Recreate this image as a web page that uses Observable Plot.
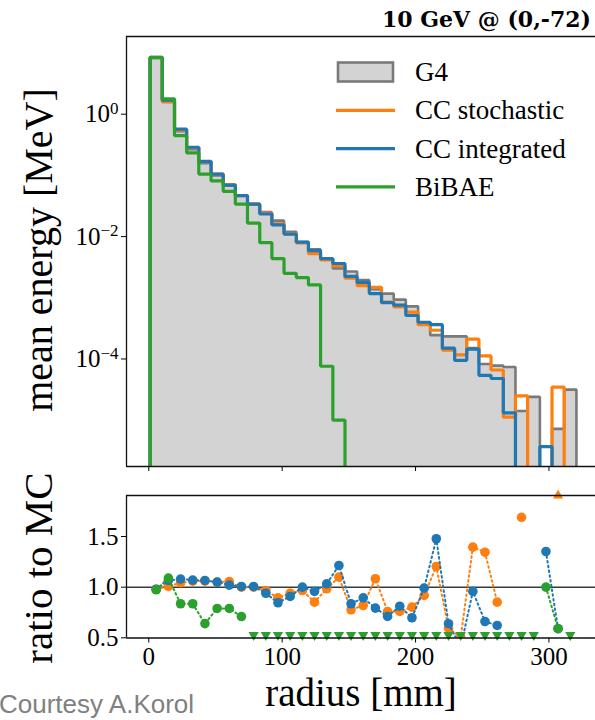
<!DOCTYPE html>
<html>
<head>
<meta charset="utf-8">
<script src="https://cdn.jsdelivr.net/npm/d3@7"></script>
<script src="https://cdn.jsdelivr.net/npm/@observablehq/plot@0.6"></script>
<style>
  html, body { margin: 0; padding: 0; background: #fff; }
  #figure { position: relative; width: 595px; height: 720px; overflow: hidden; background: #fff; }
  #figure > * { position: absolute; left: 0; }
  #energy { top: 0; }
  #ratio { top: 480px; }
  #labels { top: 0; pointer-events: none; }
</style>
</head>
<body>
<div id="figure">
  <div id="energy"></div>
  <div id="ratio"></div>
  <svg id="labels" width="595" height="720"></svg>
</div>
<script>
// Radial bin edges [mm]
const binEdges = [1.0, 10.1, 19.3, 28.4, 37.5, 46.7, 55.8, 64.9, 74.0, 83.2, 92.3, 101.4, 110.6, 119.7,
  128.8, 138.0, 147.1, 156.2, 165.3, 174.5, 183.6, 192.7, 201.9, 211.0, 220.1, 229.3, 238.4, 247.5,
  256.6, 265.8, 274.9, 284.0, 293.2, 302.3, 311.4, 320.6];

// Mean deposited energy per radial bin [MeV]; 0 marks an empty bin
const g4 = [8.61, 1.585, 0.525, 0.269, 0.158, 0.100, 0.0676, 0.0468, 0.0339, 0.0251, 0.0182, 0.0120,
  0.00813, 0.00617, 0.00427, 0.00302, 0.00269, 0.00195, 0.00138, 0.00117, 0.000933, 0.000724,
  0.000398, 0.000245, 0.000234, 0.000234, 0.000151, 8.3e-5, 7.8e-5, 7.4e-5, 1.41e-5, 2.4e-5, 0,
  7.2e-6, 3.16e-5];
const ccStochastic = [8.41, 1.60, 0.550, 0.285, 0.168, 0.105, 0.0708, 0.0468, 0.0339, 0.0243, 0.0162,
  0.0112, 0.00785, 0.00525, 0.00417, 0.00331, 0.00209, 0.00158, 0.00148, 0.000851, 0.000708,
  0.000582, 0.000363, 0.000295, 0.000140, 0.000117, 0.000211, 0.000112, 6.6e-5, 1.12e-5, 2.5e-5,
  0, 0, 3.47e-5, 0];
const ccIntegrated = [8.41, 1.70, 0.569, 0.288, 0.170, 0.105, 0.0692, 0.0468, 0.0339, 0.0234, 0.0155,
  0.0110, 0.00813, 0.00589, 0.00437, 0.00363, 0.00224, 0.00178, 0.00117, 0.000832, 0.000759,
  0.000513, 0.000398, 0.000363, 0.000150, 9.5e-5, 0.000145, 5.4e-5, 4.8e-5, 1.32e-5, 0, 0, 3.7e-6,
  0, 0];
const bibae = [8.5, 1.78, 0.447, 0.234, 0.105, 0.0813, 0.055, 0.0339, 0.0166, 0.00794, 0.00437,
  0.00251, 0.00214, 0.00162, 7.6e-5, 1.0e-5, 0, 0, 0, 0, 0, 0, 0, 0, 0, 0, 0, 0, 0, 0, 0, 0, 0, 0, 0];

// Ratio to G4 per bin; null where no point is shown
const ratioStochastic = [0.98, 1.007, 1.043, 1.06, 1.06, 1.05, 1.055, 1.0, 1.0, 0.967, 0.895, 0.94,
  0.967, 0.852, 0.984, 1.099, 0.777, 0.819, 1.083, 0.76, 0.76, 0.803, 0.918, 1.204, 0.595, 0.506,
  1.395, 1.345, 0.852, null, 1.69, null, null, null, null];
const ratioIntegrated = [0.98, 1.066, 1.08, 1.07, 1.066, 1.05, 1.02, 1.007, 1.007, 0.94, 0.846, 0.908,
  1.0, 0.958, 1.033, 1.214, 0.836, 0.895, 0.793, 0.711, 0.812, 0.698, 0.99, 1.478, 0.639, 0.41,
  0.958, 0.661, 0.622, null, null, null, 1.352, 0.59, null];
const ratioBibae = [0.974, 1.09, 0.836, 0.836, 0.64, 0.79, 0.79, 0.71, null, null, null, null, null,
  null, null, null, null, null, null, null, null, null, null, null, null, null, null, null, null,
  null, null, null, 1.0, 0.59, null];
// Bins whose ratio lies outside the plotted range
const bibaeBelow = [8, 9, 10, 11, 12, 13, 14, 15, 16, 17, 18, 19, 20, 21, 22, 23, 24, 25, 26, 27,
  28, 29, 30, 31, 34];
const stochasticAbove = [33];

const legendNames = ["G4", "CC stochastic", "CC integrated", "BiBAE"];
const xTicks = [0, 100, 200, 300];
const energyTicks = [1, 1e-2, 1e-4];
const ratioTicks = [0.5, 1.0, 1.5];

const GREY = "#7a7a7a", FILL = "#d3d3d3";
const ORANGE = "#ff7f0e", BLUE = "#1f77b4", GREEN = "#2ca02c";
const SPINE = "#111";
const SERIF = "'Liberation Serif', 'DejaVu Serif', serif";

const xDomain = [-16.7, 334.9];
const eDomain = [1.75e-6, 18.6];
const rDomain = [0.498, 1.905];
const FLOOR = 1e-9;

// histogram outline as a step path between bin edges
function outline(values) {
  const pts = [{x: binEdges[0], y: FLOOR}];
  values.forEach((v, i) => {
    const y = v > 0 ? v : FLOOR;
    pts.push({x: binEdges[i], y}, {x: binEdges[i + 1], y});
  });
  pts.push({x: binEdges[binEdges.length - 1], y: FLOOR});
  return pts;
}
const centers = binEdges.slice(1).map((e, i) => (binEdges[i] + e) / 2);
const ratioPoints = (r) => r.map((v, i) => ({x: centers[i], y: v}));

const baseStyle = {background: "transparent", fontFamily: SERIF, fontSize: "25px", color: "#000", overflow: "visible"};
const stepOpts = {x: "x", y: "y", strokeWidth: 3.2, strokeLinejoin: "miter", clip: true};

const sup = (d) => "10^" + Math.round(Math.log10(d));

const energy = Plot.plot({
  width: 595, height: 470,
  marginTop: 36, marginBottom: 4, marginLeft: 126, marginRight: 0,
  style: baseStyle,
  x: {domain: xDomain},
  y: {type: "log", domain: eDomain},
  marks: [
    Plot.areaY(outline(g4), {x: "x", y1: () => FLOOR, y2: "y", fill: FILL, clip: true}),
    Plot.line(outline(g4), {...stepOpts, stroke: GREY, strokeWidth: 2.6}),
    Plot.line(outline(ccStochastic), {...stepOpts, stroke: ORANGE}),
    Plot.line(outline(ccIntegrated), {...stepOpts, stroke: BLUE}),
    Plot.line(outline(bibae), {...stepOpts, stroke: GREEN}),
    Plot.axisX({ticks: xTicks, tickSize: 5, tickFormat: () => "", label: null}),
    Plot.axisY({ticks: energyTicks, tickSize: 5, tickPadding: 3, tickFormat: sup, label: null}),
    Plot.ruleY([eDomain[1]], {stroke: SPINE, strokeWidth: 1.3}),
    Plot.ruleY([eDomain[0]], {stroke: SPINE, strokeWidth: 1.3}),
    Plot.ruleX([xDomain[0]], {stroke: SPINE, strokeWidth: 1.3})
  ]
});
document.getElementById("energy").append(energy);

const dotted = {x: "x", y: "y", strokeWidth: 2, strokeDasharray: "1.6,3.2", clip: true};
const dotOpts = {x: "x", y: "y", r: 4.8, clip: true};

const ratio = Plot.plot({
  width: 595, height: 200,
  marginTop: 15, marginBottom: 42.5, marginLeft: 126, marginRight: 0,
  style: baseStyle,
  x: {domain: xDomain},
  y: {domain: rDomain},
  marks: [
    Plot.ruleY([1], {stroke: "#3a3a3a", strokeWidth: 1.5}),
    Plot.line(ratioPoints(ratioStochastic), {...dotted, stroke: ORANGE}),
    Plot.dot(ratioPoints(ratioStochastic), {...dotOpts, fill: ORANGE}),
    Plot.line(ratioPoints(ratioIntegrated), {...dotted, stroke: BLUE}),
    Plot.dot(ratioPoints(ratioIntegrated), {...dotOpts, fill: BLUE}),
    Plot.line(ratioPoints(ratioBibae), {...dotted, stroke: GREEN}),
    Plot.dot(ratioPoints(ratioBibae), {...dotOpts, fill: GREEN}),
    Plot.dot(bibaeBelow, {x: (i) => centers[i], y: () => rDomain[0], dy: -3, symbol: "triangle",
      rotate: 180, r: 3.8, fill: GREEN, stroke: null}),
    Plot.dot(stochasticAbove, {x: (i) => centers[i], y: () => rDomain[1], symbol: "triangle",
      r: 3.8, fill: ORANGE, stroke: null}),
    Plot.axisX({ticks: xTicks, tickSize: 5, tickPadding: 4, label: null}),
    Plot.axisY({ticks: ratioTicks, tickSize: 5, tickPadding: 3, tickFormat: d3.format(".1f"), label: null}),
    Plot.ruleY([rDomain[1]], {stroke: SPINE, strokeWidth: 1.3}),
    Plot.ruleY([rDomain[0]], {stroke: SPINE, strokeWidth: 1.3}),
    Plot.ruleX([xDomain[0]], {stroke: SPINE, strokeWidth: 1.3})
  ]
});
document.getElementById("ratio").append(ratio);

// powers of ten with raised exponents
d3.select(energy).selectAll('g[aria-label="y-axis tick label"] text').each(function () {
  const t = d3.select(this);
  const [base, exp] = t.text().split("^");
  t.text(base);
  t.append("tspan").attr("dy", "-0.48em").attr("font-size", "0.68em").text(exp.replace("-", "\u2212"));
});

// titles, axis labels and legend
const lab = d3.select("#labels");
lab.append("text").attr("x", 591).attr("y", 27).attr("text-anchor", "end")
  .attr("font-family", "'DejaVu Serif', serif").attr("font-weight", "bold").attr("font-size", 22)
  .text("10 GeV @ (0,-72)");
lab.append("text").attr("transform", "translate(52,250) rotate(-90)").attr("text-anchor", "middle")
  .attr("font-family", SERIF).attr("font-size", 40).text("mean energy [MeV]");
lab.append("text").attr("transform", "translate(52,568) rotate(-90)").attr("text-anchor", "middle")
  .attr("font-family", SERIF).attr("font-size", 41).text("ratio to MC");
lab.append("text").attr("x", 361).attr("y", 706).attr("text-anchor", "middle")
  .attr("font-family", SERIF).attr("font-size", 39).text("radius [mm]");
lab.append("text").attr("x", -1).attr("y", 713).attr("fill", "#808080")
  .attr("font-family", "'Liberation Sans', Arial, sans-serif").attr("font-size", 26).text("Courtesy A.Korol");

const legendColors = [GREY, ORANGE, BLUE, GREEN];
const leg = lab.append("g").selectAll("g").data(legendNames).join("g")
  .attr("transform", (d, i) => `translate(0,${72 + i * 38.3})`);
leg.each(function (d, i) {
  const g = d3.select(this);
  if (i === 0) {
    g.append("rect").attr("x", 338).attr("y", -9.5).attr("width", 55).attr("height", 19)
      .attr("fill", FILL).attr("stroke", GREY).attr("stroke-width", 2.6);
  } else {
    g.append("line").attr("x1", 336).attr("x2", 395).attr("stroke", legendColors[i]).attr("stroke-width", 3.2);
  }
  g.append("text").attr("x", 415).attr("y", 9).attr("font-family", SERIF).attr("font-size", 27).text(d);
});
</script>
</body>
</html>
